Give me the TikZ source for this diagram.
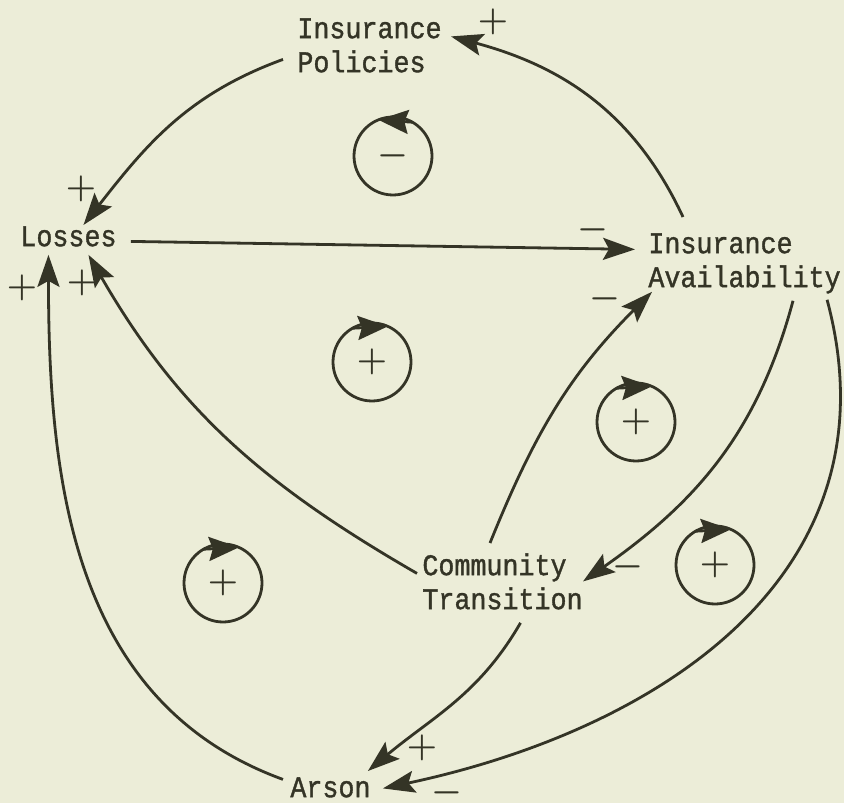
\documentclass[tikz,border=0pt]{standalone}
\usepackage{fontspec}
\newfontfamily\typefont[FakeStretch=0.89,FakeBold=1.2]{Liberation Mono}
\usetikzlibrary{arrows.meta}
\definecolor{paper}{RGB}{236,237,216}
\definecolor{ink}{RGB}{52,52,38}

\begin{document}
\begin{tikzpicture}[x=0.5pt,y=0.5pt]

% --- styles ---
\tikzset{
    var/.style={anchor=north west, align=left, inner sep=0pt, text=ink,
        font=\typefont\fontsize{15}{17}\selectfont},
    link/.style={-{Stealth[length=16pt,width=11pt,inset=3pt]}, draw=ink, line width=1.4pt},
    sign/.style={text=ink, inner sep=0pt, font=\fontsize{19}{19}\selectfont\boldmath},
    loopmark/.style={circle, draw=ink, line width=1.4pt, minimum size=39pt,
        inner sep=0pt, outer sep=0pt, text=ink, font=\fontsize{18}{18}\selectfont\boldmath},
    looptip/.style={-{Stealth[length=15pt,width=12pt,inset=2pt]}, draw=ink, line width=1.4pt}
}

% background / frame
\fill[paper] (0,0) rectangle (844,803);
\useasboundingbox (0,0) rectangle (844,803);

% --- variables ---
\node[var] (policies) at (297,785) {Insurance\\Policies};
\node[var] (losses)   at (20,577)  {Losses};
\node[var] (avail)    at (648,570) {Insurance\\Availability};
\node[var] (comm)     at (422,250) {Community\\Transition};
\node[var] (arson)    at (290,26)  {Arson};

% --- loop markers ---
\node[loopmark] (lm) at (393,647) {$-$};
\node[loopmark] (l1) at (372,441) {$+$};
\node[loopmark] (l2) at (636,381) {$+$};
\node[loopmark] (l3) at (715,238) {$+$};
\node[loopmark] (l4) at (223,220) {$+$};

% arrowheads sitting on top of the loop circles
\draw[looptip] (lm.60) -- (lm.112);
\foreach \l in {l1,l2,l3,l4}
    \draw[looptip] (\l.120) -- (\l.66);

% --- links ---
\draw[link] ([shift={(35,16)}]avail.north west) to[out=115, in=-15] ([shift={(9,9)}]policies.east);
\draw[link] ([shift={(-14,-14)}]policies.west) to[out=200, in=52] ([shift={(15,1)}]losses.north);
\draw[link] ([shift={(14,-5)}]losses.east) -- ([shift={(-13,14)}]avail.west);
\draw[link] ([shift={(68,10)}]comm.north west) to[out=68, in=225] ([shift={(4,2)}]avail.south west);
\draw[link] ([shift={(-5,8)}]comm.west) to[out=150, in=-60] ([shift={(20,-8)}]losses.south);
\draw[link] ([shift={(-7,8)}]arson.west) to[out=160, in=-90] ([shift={(-20,-8)}]losses.south);
\draw[link] ([shift={(145,-7)}]avail.south west) to[out=-105, in=35] (comm.east);
\draw[link] ([shift={(-14,-6)}]avail.south east) to[out=-75, in=12, looseness=1.1] ([shift={(12,-1)}]arson.east);
\draw[link] ([shift={(18,-13)}]comm.south) to[out=-120, in=40] ([shift={(-3,6)}]arson.north east);

% --- polarities ---
\node[sign] (s1) at (493,781) {$+$};
\node[sign] (s2) at (81,614)  {$+$};
\node[sign] (s3) at (593,573) {$-$};
\node[sign] (s4) at (22,515)  {$+$};
\node[sign] (s5) at (82,520)  {$+$};
\node[sign] (s6) at (605,504) {$-$};
\node[sign] (s7) at (628,236) {$-$};
\node[sign] (s8) at (422,55)  {$+$};
\node[sign] (s9) at (447,10)  {$-$};

\end{tikzpicture}
\end{document}
